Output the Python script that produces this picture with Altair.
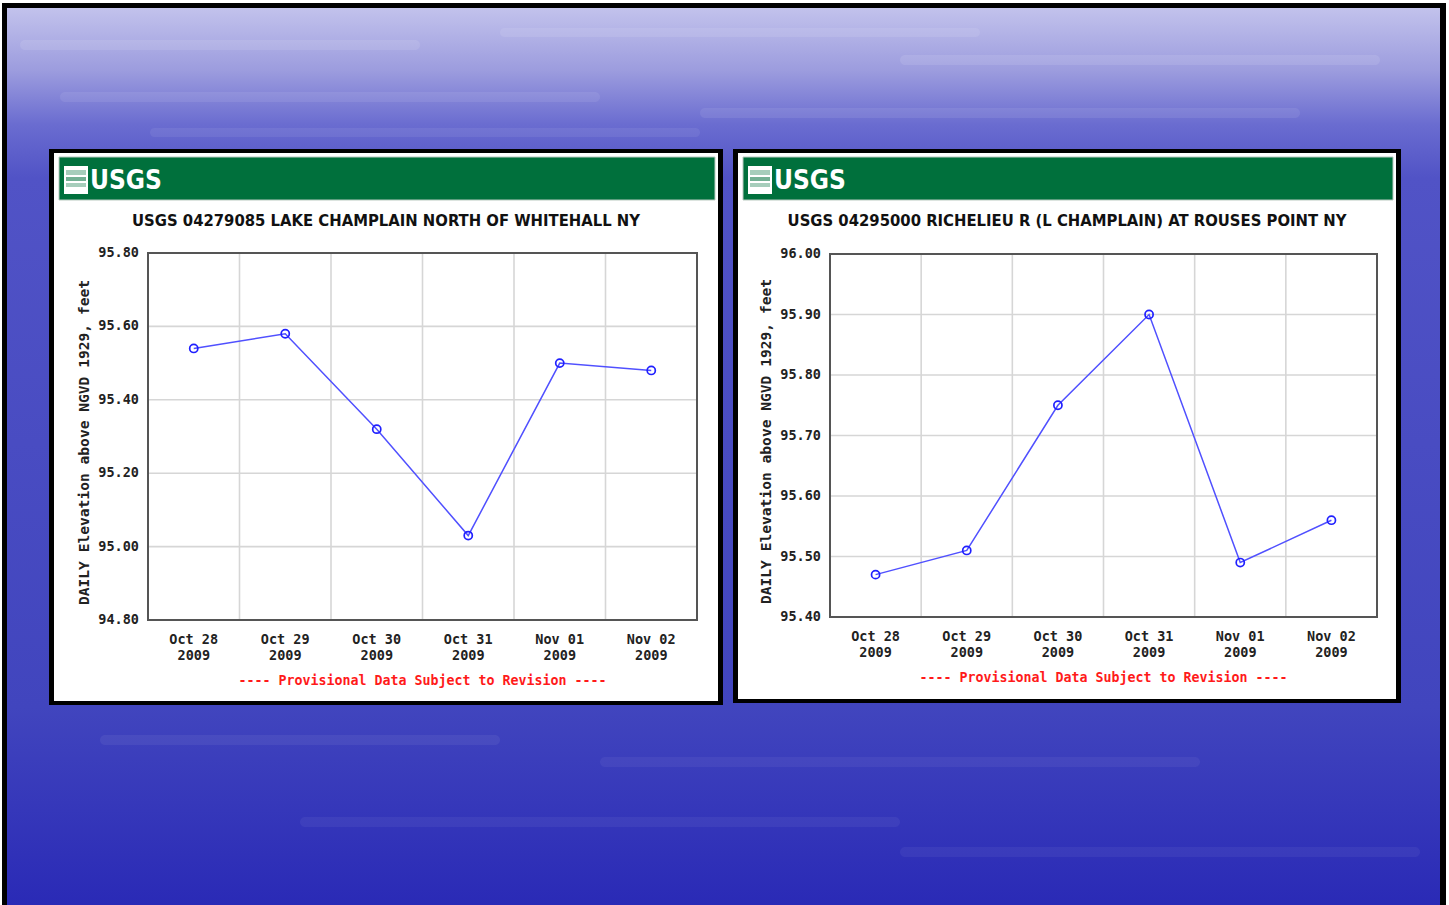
import altair as alt
import pandas as pd

# ---- data -------------------------------------------------------------
days = ["2009-10-28T12:00:00", "2009-10-29T12:00:00", "2009-10-30T12:00:00",
        "2009-10-31T12:00:00", "2009-11-01T12:00:00", "2009-11-02T12:00:00"]
day_labels = ["Oct 28\n2009", "Oct 29\n2009", "Oct 30\n2009",
              "Oct 31\n2009", "Nov 01\n2009", "Nov 02\n2009"]
midnights = ["2009-10-29T00:00:00", "2009-10-30T00:00:00", "2009-10-31T00:00:00",
             "2009-11-01T00:00:00", "2009-11-02T00:00:00"]

whitehall = [95.54, 95.58, 95.32, 95.03, 95.50, 95.48]
rouses = [95.47, 95.51, 95.75, 95.90, 95.49, 95.56]

whitehall_ticks = [94.8, 95.0, 95.2, 95.4, 95.6, 95.8]
rouses_ticks = [95.4, 95.5, 95.6, 95.7, 95.8, 95.9, 96.0]

whitehall_title = "USGS 04279085 LAKE CHAMPLAIN NORTH OF WHITEHALL NY"
rouses_title = "USGS 04295000 RICHELIEU R (L CHAMPLAIN) AT ROUSES POINT NY"
y_title = "DAILY Elevation above NGVD 1929, feet"
footer = "---- Provisional Data Subject to Revision ----"

W, H = 1449, 905
MONO = "DejaVu Sans Mono"
NARROW = "Liberation Sans Narrow, DejaVu Sans Condensed, sans-serif"
one = pd.DataFrame({"k": [0]})


def box(x, x2, y, y2, **kw):
    return alt.Chart(one).mark_rect(**kw).encode(
        x=alt.value(x), x2=alt.value(x2), y=alt.value(y), y2=alt.value(y2))


def label(text, x, y, **kw):
    return alt.Chart(one).mark_text(text=text, **kw).encode(
        x=alt.value(x), y=alt.value(y))


# ---- slide background ---------------------------------------------------
sky = alt.Gradient(
    gradient="linear", x1=0, x2=0, y1=0, y2=1,
    stops=[alt.GradientStop(offset=0.0, color="#c2c2ec"),
           alt.GradientStop(offset=0.07, color="#9c9cde"),
           alt.GradientStop(offset=0.13, color="#6a6cd0"),
           alt.GradientStop(offset=0.19, color="#5153c6"),
           alt.GradientStop(offset=0.78, color="#4145be"),
           alt.GradientStop(offset=1.0, color="#2a2ab6")])

background = [
    box(0, W, 0, H, color="white"),
    box(2, 1446, 3, H, color="black"),
    box(7, 1440, 8, H, color=sky),
]

# faint light ripples across the water texture
streaks = [(20, 420, 40, 50, 0.10), (500, 980, 28, 37, 0.09), (900, 1380, 55, 65, 0.10),
           (60, 600, 92, 102, 0.08), (700, 1300, 108, 118, 0.08), (150, 700, 128, 137, 0.07),
           (100, 500, 735, 745, 0.06), (600, 1200, 757, 767, 0.05), (300, 900, 817, 827, 0.05),
           (900, 1420, 847, 857, 0.05)]
for x0, x1, y0, y1, op in streaks:
    background.append(box(x0, x1, y0, y1, color="white", opacity=op, cornerRadius=5))


def usgs_panel(values, ticks, title, px0, px1, py0, py1, L, R, T, B):
    """White USGS hydrograph card with its plot drawn through shared scales."""
    cx = (px0 + px1) / 2
    deco = [
        box(px0, px1, py0, py1, color="black"),
        box(px0 + 5, px1 - 5, py0 + 4, py1 - 4, color="white"),
        box(px0 + 10, px1 - 8, py0 + 8, py0 + 51, color="#00703c",
            stroke="#b9c9c0", strokeWidth=1),
        # logo mark
        box(px0 + 15, px0 + 39, py0 + 17, py0 + 45, color="white"),
        label("USGS", px0 + 41, py0 + 32, font=NARROW, fontSize=26, fontWeight="bold",
              color="white", align="left", baseline="middle"),
        label(title, cx, py0 + 72, font=NARROW, fontSize=16.5, fontWeight="bold",
              color="#111111", align="center", baseline="middle"),
        label(y_title, L - 63, (T + B) / 2 + 6, font=MONO, fontSize=14.6, fontWeight="bold",
              color="#222222", angle=270, align="center", baseline="middle"),
        label(footer, (L + R) / 2, B + 61, font=MONO, fontSize=13.3, fontWeight="bold",
              color="#ff1a1a", align="center", baseline="middle"),
    ]
    for k, (a, b) in enumerate([(21, 26), (28, 32), (34, 38)]):
        deco.append(box(px0 + 17, px0 + 37, py0 + a, py0 + b, color="#00703c",
                        opacity=0.55 if k == 1 else 0.35))

    xs = alt.Scale(domain=[alt.DateTime(year=2009, month=10, date=28, hours=0),
                           alt.DateTime(year=2009, month=11, date=3, hours=0)],
                   range=[L, R])
    ys = alt.Scale(domain=[ticks[0], ticks[-1]], range=[B, T])

    pts = pd.DataFrame({"day": days, "value": values, "lab": day_labels})
    tk = pd.DataFrame({"v": ticks})
    mid = pd.DataFrame({"d": midnights})

    hgrid = alt.Chart(tk).mark_rule(color="#d6d6d6", strokeWidth=1.6).encode(
        y=alt.Y("v:Q", scale=ys, axis=None), x=alt.value(L), x2=alt.value(R))
    vgrid = alt.Chart(mid).mark_rule(color="#d6d6d6", strokeWidth=1.6).encode(
        x=alt.X("d:T", scale=xs, axis=None), y=alt.value(T), y2=alt.value(B))
    frame = box(L, R, T, B, fill=None, stroke="#555555", strokeWidth=2)
    line = alt.Chart(pts).mark_line(color="#5050ff", strokeWidth=1.5).encode(
        x=alt.X("day:T", scale=xs, axis=None), y=alt.Y("value:Q", scale=ys, axis=None))
    dots = alt.Chart(pts).mark_point(shape="circle", filled=False, color="#2020ff",
                                     size=66, strokeWidth=1.7, opacity=1).encode(
        x=alt.X("day:T", scale=xs, axis=None), y=alt.Y("value:Q", scale=ys, axis=None))
    ylabels = alt.Chart(tk).mark_text(font=MONO, fontSize=13.5, fontWeight="bold",
                                      color="#222222", align="right", baseline="middle").encode(
        y=alt.Y("v:Q", scale=ys, axis=None), x=alt.value(L - 9),
        text=alt.Text("v:Q", format=".2f"))
    xlabels = alt.Chart(pts).mark_text(font=MONO, fontSize=13.5, fontWeight="bold",
                                       color="#222222", align="center", baseline="top",
                                       lineBreak="\n", lineHeight=16).encode(
        x=alt.X("day:T", scale=xs, axis=None), y=alt.value(B + 13), text="lab:N")

    plot = alt.layer(hgrid, vgrid, frame, line, dots, ylabels, xlabels)
    return deco, plot


left_deco, left_plot = usgs_panel(whitehall, whitehall_ticks, whitehall_title,
                                  49, 723, 149, 705, 148, 697, 253, 620)
right_deco, right_plot = usgs_panel(rouses, rouses_ticks, rouses_title,
                                    733, 1401, 149, 703, 830, 1377, 254, 617)

chart = alt.layer(*background, *left_deco, *right_deco, left_plot, right_plot).resolve_scale(
    x="independent", y="independent"
).properties(
    width=W, height=H, padding=0,
    autosize=alt.AutoSizeParams(type="none"),
).configure_view(stroke=None)

chart.save("out.html", embed_options={"renderer": "svg", "actions": False})
